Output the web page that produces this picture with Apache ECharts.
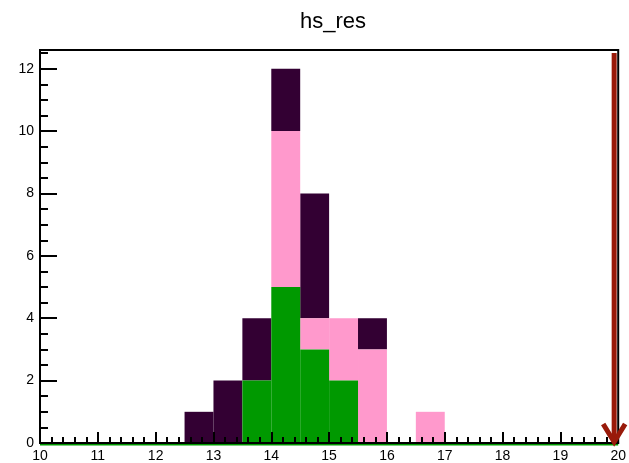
<!DOCTYPE html>
<html>
<head>
<meta charset="utf-8">
<script src="https://cdn.jsdelivr.net/npm/echarts@6/dist/echarts.min.js"></script>
<style>
  html, body { margin: 0; padding: 0; background: #fff; }
  #chart { width: 629px; height: 463px; }
</style>
</head>
<body>
<div id="chart"></div>
<script>
// Stacked histogram hs_res: three components in 0.5-wide bins
const binLow = [12.5, 13, 13.5, 14, 14.5, 15, 15.5, 16, 16.5];
const binWidth = 0.5;
const greenCounts = [0, 0, 2, 5, 3, 2, 0, 0, 0];
const pinkCounts  = [0, 0, 0, 5, 1, 2, 3, 0, 1];
const darkCounts  = [1, 2, 2, 2, 4, 0, 1, 0, 0];

const xRange = [10, 20];
const yRange = [0, 12.6];
const yLabelValues = [0, 2, 4, 6, 8, 10, 12];

// Cut marker arrow
const arrowX = 19.93;
const arrowTop = 12.5;
const arrowBottom = 0;

const colors = { green: '#009900', pink: '#ff99cc', dark: '#330033', arrow: '#991a0a' };

// Build [low, high, bottom, top] rectangles for each stacked layer
function layer(counts, below) {
  return counts.map((c, i) => {
    const base = below.reduce((s, arr) => s + arr[i], 0);
    return [binLow[i], binLow[i] + binWidth, base, base + c];
  }).filter(d => d[3] > d[2]);
}

function rectItem(color) {
  return function (params, api) {
    const p0 = api.coord([api.value(0), api.value(2)]);
    const p1 = api.coord([api.value(1), api.value(3)]);
    return {
      type: 'rect',
      shape: { x: p0[0], y: p1[1], width: p1[0] - p0[0], height: p0[1] - p1[1] },
      style: { fill: color }
    };
  };
}

const chart = echarts.init(document.getElementById('chart'), null, { renderer: 'canvas' });

const labelFont = { fontFamily: 'Liberation Sans, Arial, sans-serif', fontSize: 14, color: '#000' };

chart.setOption({
  animation: false,
  title: {
    text: 'hs_res',
    left: 328,
    top: 6,
    textAlign: 'center',
    textStyle: { fontFamily: 'Liberation Sans, Arial, sans-serif', fontSize: 22, fontWeight: 'normal', color: '#000' }
  },
  grid: {
    left: 40, right: 9, top: 50, bottom: 20,
    show: true, borderColor: '#000', borderWidth: 2, backgroundColor: 'transparent'
  },
  xAxis: [{
    type: 'value', min: xRange[0], max: xRange[1], interval: 1, z: 10,
    axisLine: { show: true, onZero: false, lineStyle: { color: '#000', width: 2 } },
    axisTick: { show: true, inside: true, length: 11, lineStyle: { color: '#000', width: 2 } },
    minorTick: { show: true, splitNumber: 5, length: 6, lineStyle: { color: '#000', width: 2 } },
    axisLabel: Object.assign({ margin: 6 }, labelFont),
    splitLine: { show: false }
  }],
  yAxis: [{
    type: 'value', min: yRange[0], max: yRange[1], interval: 0.5, z: 10,
    axisLine: { show: true, onZero: false, lineStyle: { color: '#000', width: 2 } },
    axisTick: { show: true, inside: true, length: 8, lineStyle: { color: '#000', width: 2 } },
    axisLabel: Object.assign({
      margin: 6,
      formatter: v => (yLabelValues.indexOf(v) >= 0 ? String(v) : '')
    }, labelFont),
    splitLine: { show: false }
  }, {
    type: 'value', min: yRange[0], max: yRange[1], interval: 2, z: 10, position: 'left',
    axisLine: { show: false },
    axisTick: { show: true, inside: true, length: 17, lineStyle: { color: '#000', width: 2 } },
    axisLabel: { show: false },
    splitLine: { show: false }
  }],
  series: [
    {
      type: 'custom', name: 'dark', z: 2,
      renderItem: rectItem(colors.dark),
      encode: { x: [0, 1], y: [2, 3] },
      data: layer(darkCounts, [greenCounts, pinkCounts])
    },
    {
      type: 'custom', name: 'pink', z: 2,
      renderItem: rectItem(colors.pink),
      encode: { x: [0, 1], y: [2, 3] },
      data: layer(pinkCounts, [greenCounts])
    },
    {
      type: 'custom', name: 'green', z: 2,
      renderItem: rectItem(colors.green),
      encode: { x: [0, 1], y: [2, 3] },
      data: layer(greenCounts, [])
    },
    {
      // outline of the green component along empty bins
      type: 'custom', name: 'greenLine', z: 3,
      renderItem: function (params, api) {
        const a = api.coord([api.value(0), 0]);
        const b = api.coord([api.value(1), 0]);
        return {
          type: 'line',
          shape: { x1: a[0], y1: a[1] + 1.5, x2: b[0], y2: b[1] + 1.5 },
          style: { stroke: colors.green, lineWidth: 2 }
        };
      },
      encode: { x: [0, 1] },
      data: [[xRange[0], xRange[1]]]
    },
    {
      type: 'custom', name: 'arrow', z: 20,
      renderItem: function (params, api) {
        const top = api.coord([api.value(0), api.value(1)]);
        const tip = api.coord([api.value(0), api.value(2)]);
        return {
          type: 'group',
          children: [
            {
              type: 'line',
              shape: { x1: top[0], y1: top[1], x2: tip[0], y2: tip[1] - 2 },
              style: { stroke: colors.arrow, lineWidth: 5 }
            },
            {
              type: 'polyline',
              shape: { points: [[tip[0] - 11, tip[1] - 19], [tip[0], tip[1] - 1], [tip[0] + 11, tip[1] - 19]] },
              style: { stroke: colors.arrow, lineWidth: 5, fill: null, lineJoin: 'miter' }
            }
          ]
        };
      },
      encode: { x: 0, y: [1, 2] },
      data: [[arrowX, arrowTop, arrowBottom]]
    }
  ]
});
</script>
</body>
</html>
